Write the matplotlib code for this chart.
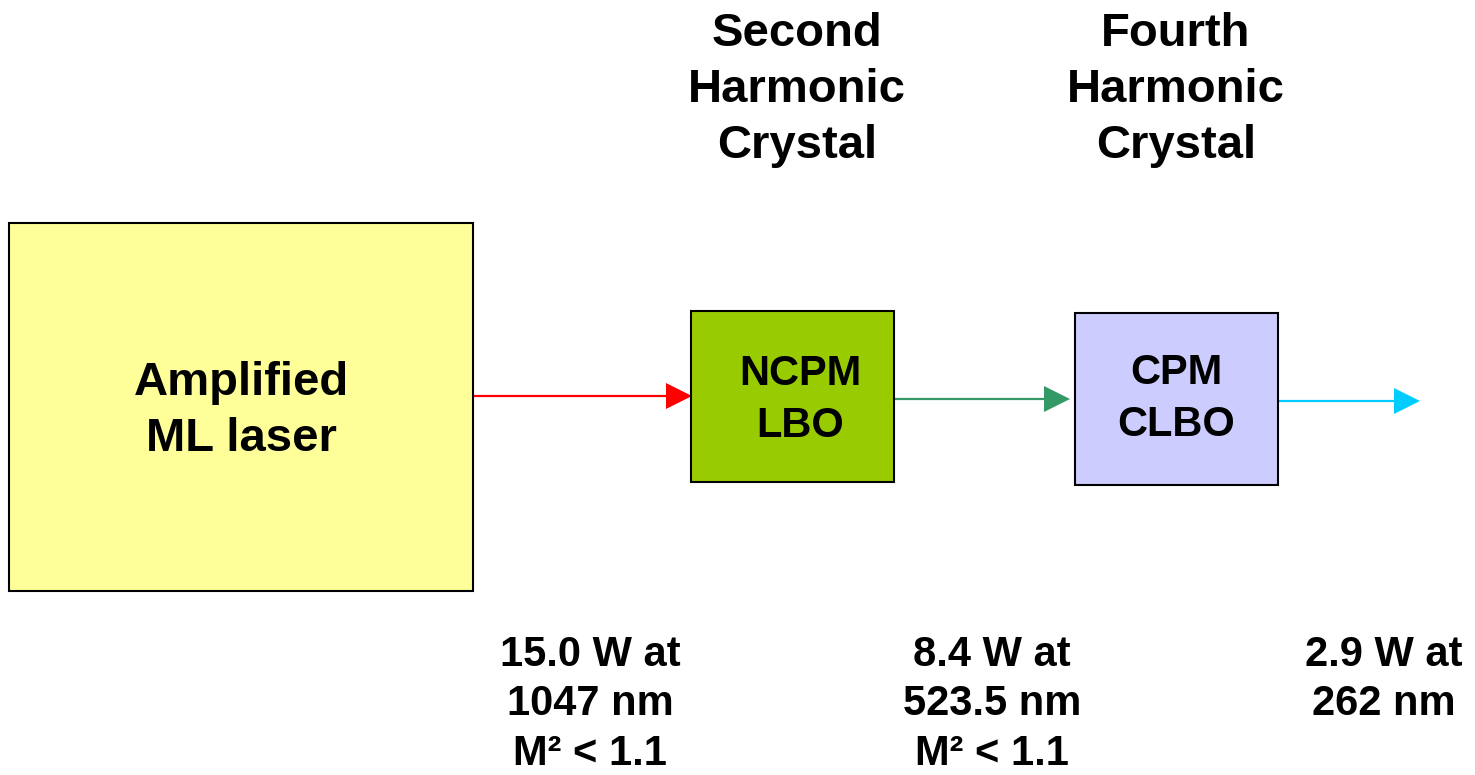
import matplotlib.pyplot as plt
from matplotlib.patches import Rectangle

plt.rcParams['font.family'] = ['Liberation Sans', 'DejaVu Sans']

# boxes: (left, top, width, height) in pixels of the 1475x775 picture
box_labels = ["Amplified\nML laser", "NCPM\nLBO", "CPM\nCLBO"]
box_rects = [(9, 223, 464, 368), (691, 311, 203, 171), (1075, 313, 203, 172)]
box_colors = ["#FFFF99", "#99CC00", "#CCCCFF"]
box_text_pos = [(241, 411), (800, 400), (1176, 399)]
box_font = [34, 30, 30]

# beams: (x start, x end, y)
beam_x0 = [470, 894, 1278]
beam_x1 = [692, 1070, 1420]
beam_y = [396, 399, 401]
beam_colors = ["#FF0000", "#339966", "#00CCFF"]

header_labels = ["Second\nHarmonic\nCrystal", "Fourth\nHarmonic\nCrystal"]
header_x = [797, 1176]
header_y = 90

power_labels = ["15.0 W at\n1047 nm\nM² < 1.1", "8.4 W at\n523.5 nm\nM² < 1.1", "2.9 W at\n262 nm"]
power_x = [590, 992, 1384]
power_top = 635

fig = plt.figure(figsize=(14.75, 7.75), dpi=100)
ax = fig.add_axes([0, 0, 1, 1])
ax.set_xlim(0, 1475)
ax.set_ylim(775, 0)
ax.axis('off')

for (x, y, w, h), c in zip(box_rects, box_colors):
    ax.add_patch(Rectangle((x, y), w, h, facecolor=c, edgecolor='black', lw=1.5, zorder=2))

for lab, (tx, ty), fs in zip(box_labels, box_text_pos, box_font):
    ax.text(tx, ty, lab, ha='center', va='center', fontsize=fs, fontweight='bold',
            linespacing=1.37, zorder=3)

for x0, x1, y, c in zip(beam_x0, beam_x1, beam_y, beam_colors):
    ax.arrow(x0, y, x1 - x0, 0, width=2.2, head_width=26, head_length=26,
             length_includes_head=True, color=c, lw=0, zorder=1)

for lab, x in zip(header_labels, header_x):
    ax.text(x, header_y, lab, ha='center', va='center', fontsize=34, fontweight='bold',
            linespacing=1.36)

for lab, x in zip(power_labels, power_x):
    ax.text(x, power_top, lab, ha='center', va='top', fontsize=30, fontweight='bold',
            linespacing=1.3, multialignment='center')

fig.savefig("out.png", dpi=100)
